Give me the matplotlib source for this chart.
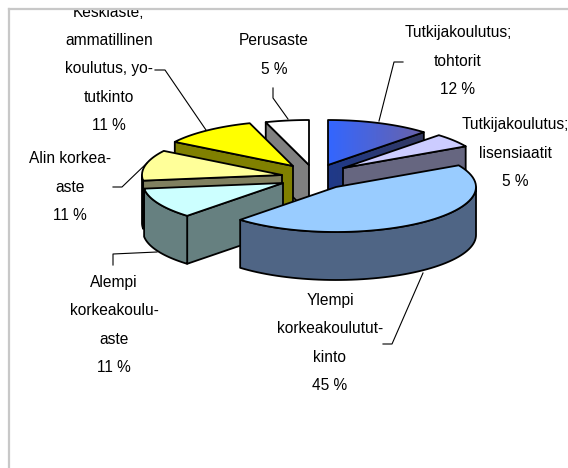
"""Exploded 3D style pie of education levels, drawn with plain patches."""

import matplotlib
matplotlib.use("Agg")
import matplotlib.pyplot as plt
import numpy as np
from matplotlib.colors import LinearSegmentedColormap
from matplotlib.patches import Polygon, Rectangle

plt.rcParams["font.family"] = ["Liberation Sans", "DejaVu Sans"]

names = [
    "Tutkijakoulutus;\ntohtorit",
    "Tutkijakoulutus;\nlisensiaatit",
    "Ylempi\nkorkeakoulutut-\nkinto",
    "Alempi\nkorkeakoulu-\naste",
    "Alin korkea-\naste",
    "Keskiaste;\nammatillinen\nkoulutus, yo-\ntutkinto",
    "Perusaste",
]
values = [12, 5, 45, 11, 11, 11, 5]

top_colors = ["#3366ff", "#ccccff", "#99ccff", "#ccffff", "#ffff99", "#ffff00", "#ffffff"]
side_colors = ["#1f3a8a", "#666680", "#4f6585", "#668080", "#808060", "#808000", "#808080"]

# apex of each exploded slice, in pixels
centers = [(328, 165), (343, 168), (336, 187), (283, 183), (282, 175), (293, 166), (309, 165)]
label_pos = [(458, 61), (515, 153), (330, 343), (114, 325), (70, 187), (109, 69), (274, 55)]
leaders = [
    [(403, 62), (394, 62), (379, 121)],
    None,
    [(383, 344), (392, 344), (423, 273)],
    [(113, 265), (113, 254), (157, 252)],
    [(113, 187), (122, 187), (147, 163)],
    [(155, 70), (165, 70), (206, 130)],
    [(273, 88), (273, 98), (288, 119)],
]
draw_order = [6, 5, 0, 1, 4, 3, 2]

RX, RY, DEPTH = 140, 45, 48
LW = 1.3

fig = plt.figure(figsize=(5.68, 4.68), dpi=100)
ax = fig.add_axes([0, 0, 1, 1])


def rim(center, start, end, n=60):
    """Points on the ellipse, angles clockwise from the top."""
    t = np.radians(np.linspace(start, end, n))
    return np.column_stack([center[0] + RX * np.sin(t), center[1] - RY * np.cos(t)])


def fill_gradient(patch, left, right):
    """Paint a patch with a left to right colour gradient."""
    x0, y0 = patch.get_xy().min(axis=0)
    x1, y1 = patch.get_xy().max(axis=0)
    cmap = LinearSegmentedColormap.from_list("grad", [left, right])
    img = ax.imshow(np.linspace(0, 1, 128).reshape(1, -1), cmap=cmap,
                    extent=[x0, x1, y1, y0], aspect="auto", zorder=ax_z())
    img.set_clip_path(patch)


zcount = [1]


def ax_z():
    zcount[0] += 1
    return zcount[0]


def add_poly(points, color, gradient=None):
    if gradient:
        clip = Polygon(points, closed=True, transform=ax.transData)
        fill_gradient(clip, *gradient)
        color = "none"
    ax.add_patch(Polygon(points, closed=True, facecolor=color, edgecolor="black",
                         linewidth=LW, joinstyle="round", zorder=ax_z()))


bounds = np.concatenate([[0], np.cumsum(values)]) * 3.6

for i in draw_order:
    start, end = bounds[i], bounds[i + 1]
    c = np.array(centers[i], dtype=float)
    down = np.array([0, DEPTH])
    mid = rim(c, (start + end) / 2, (start + end) / 2, 1)[0]
    mid = c + (mid - c) * 0.5

    # radial cut faces that look towards the viewer
    for angle in (start, end):
        p = rim(c, angle, angle, 1)[0]
        if abs(p[0] - c[0]) < 1:
            continue
        line_y = c[1] + (mid[0] - c[0]) * (p[1] - c[1]) / (p[0] - c[0])
        if mid[1] < line_y:
            grad = ("#1f3a8a", "#333860") if i == 0 else None
            add_poly([c, p, p + down, c + down], side_colors[i], grad)

    # outer wall, only the part on the near half of the ellipse
    lo, hi = max(start, 90), min(end, 270)
    if lo < hi:
        arc = rim(c, lo, hi)
        add_poly(np.vstack([arc, (arc + down)[::-1]]), side_colors[i])

    top = np.vstack([c, rim(c, start, end)])
    grad = ("#3366ff", "#6a62a8") if i == 0 else None
    add_poly(top, top_colors[i], grad)

frame_clip = Rectangle((9, 9), 559, 459, transform=ax.transData)

z_text = ax_z()
for name, value, pos, leader in zip(names, values, label_pos, leaders):
    txt = ax.text(pos[0], pos[1], f"{name}\n{value} %", ha="center", va="center",
                  multialignment="center", fontsize=11.2, linespacing=2.1,
                  color="black", zorder=z_text)
    txt.set_clip_path(frame_clip)
    txt.set_clip_on(True)
    if leader:
        xs, ys = zip(*leader)
        ax.plot(xs, ys, color="black", linewidth=0.8, zorder=z_text)

# grey chart frame, right and bottom sides fall outside the picture
ax.plot([9, 9], [468, 8.5], color="#c8c8c8", linewidth=1.6, zorder=z_text)
ax.plot([9, 568], [8.5, 8.5], color="#c8c8c8", linewidth=1.6, zorder=z_text)

ax.set_xlim(0, 568)
ax.set_ylim(468, 0)
ax.axis("off")

fig.savefig("out.png", dpi=100, facecolor="white")
